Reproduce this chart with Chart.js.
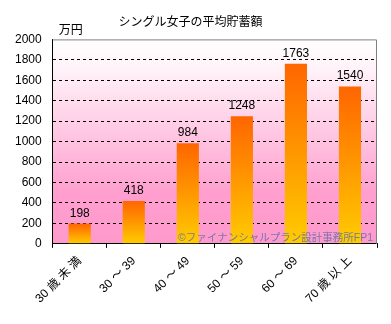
<!DOCTYPE html>
<html>
<head>
<meta charset="utf-8">
<script src="https://cdn.jsdelivr.net/npm/chart.js@4.4.1/dist/chart.umd.min.js"></script>
<style>
  html, body { margin: 0; padding: 0; background: #fff; }
  #wrap { width: 391px; height: 324px; }
</style>
</head>
<body>
<div id="wrap"><canvas id="savingsChart"></canvas></div>
<script>
const FONT = '"Liberation Sans", "Noto Sans CJK JP", sans-serif';

// data
const ageGroups = ['30 歳 未 満', '30 ～ 39', '40 ～ 49', '50 ～ 59', '60 ～ 69', '70 歳 以 上'];
const savings = [198, 418, 984, 1248, 1763, 1540];
const yTicks = [0, 200, 400, 600, 800, 1000, 1200, 1400, 1600, 1800, 2000];

const chartTitle = 'シングル女子の平均貯蓄額';
const unitLabel = '万円';
const watermark = '©ファイナンシャルプラン設計事務所FP1';

// pink backdrop, outer border, unit, watermark, value labels
const decor = {
    id: 'decor',
    beforeDraw(chart) {
        const { ctx, chartArea: a } = chart;
        const g = ctx.createLinearGradient(0, a.top, 0, a.bottom);
        g.addColorStop(0, '#ffffff');
        g.addColorStop(0.15, '#fff2f8');
        g.addColorStop(0.75, '#ff9fcf');
        g.addColorStop(1, '#ff99cc');
        ctx.save();
        ctx.fillStyle = g;
        ctx.fillRect(a.left, a.top, a.right - a.left, a.bottom - a.top);
        ctx.restore();
    },
    afterDatasetsDraw(chart) {
        const { ctx, chartArea: a } = chart;
        ctx.save();
        // top + right border in grey
        ctx.strokeStyle = '#808080';
        ctx.lineWidth = 1;
        ctx.beginPath();
        ctx.moveTo(a.left, a.top + 0.5);
        ctx.lineTo(a.right - 0.5, a.top + 0.5);
        ctx.lineTo(a.right - 0.5, a.bottom);
        ctx.stroke();

        ctx.font = '12px ' + FONT;
        ctx.fillStyle = '#000';
        ctx.textAlign = 'left';
        ctx.textBaseline = 'alphabetic';
        ctx.fillText(unitLabel, a.left + 6, a.top - 5);

        // value above each bar
        ctx.textAlign = 'center';
        const meta = chart.getDatasetMeta(0);
        meta.data.forEach((bar, i) => {
            ctx.fillText(String(savings[i]), bar.x, bar.y - 7);
        });

        ctx.font = '10.5px ' + FONT;
        ctx.fillStyle = 'rgba(96, 112, 170, 0.85)';
        ctx.textAlign = 'right';
        ctx.fillText(watermark, a.right - 4, a.bottom - 3);
        ctx.restore();
    }
};

function barFill(c) {
    const chart = c.chart;
    const y = chart.scales && chart.scales.y;
    if (!y || c.raw == null) return '#ff9900';
    const top = y.getPixelForValue(c.raw);
    const bot = y.getPixelForValue(0);
    if (!isFinite(top) || !isFinite(bot) || top === bot) return '#ff9900';
    const g = chart.ctx.createLinearGradient(0, top, 0, bot);
    g.addColorStop(0, '#ff6600');
    g.addColorStop(0.35, '#ff8800');
    g.addColorStop(1, '#ffcc00');
    return g;
}

new Chart(document.getElementById('savingsChart'), {
    type: 'bar',
    data: {
        labels: ageGroups,
        datasets: [{
            data: savings,
            backgroundColor: barFill,
            borderWidth: 0,
            categoryPercentage: 1,
            barPercentage: 0.41
        }]
    },
    options: {
        responsive: true,
        maintainAspectRatio: false,
        animation: false,
        layout: { padding: { left: 4, right: 14, top: 2, bottom: 12 } },
        plugins: {
            legend: { display: false },
            tooltip: { enabled: false },
            title: {
                display: true,
                text: chartTitle,
                color: '#000',
                font: { family: FONT, size: 12, weight: 'normal' },
                padding: { top: 13, bottom: 10 }
            }
        },
        scales: {
            x: {
                border: { color: '#000', width: 1 },
                grid: { offset: true, drawOnChartArea: false, drawTicks: true, tickLength: 4, color: '#000' },
                ticks: {
                    color: '#000',
                    font: { family: FONT, size: 12 },
                    minRotation: 45, maxRotation: 45,
                    autoSkip: false,
                    padding: 6
                }
            },
            y: {
                min: yTicks[0],
                max: yTicks[yTicks.length - 1],
                afterBuildTicks: (axis) => { axis.ticks = yTicks.map(v => ({ value: v })); },
                border: { color: '#000', width: 1, dash: [3, 3] },
                grid: {
                    drawTicks: false,
                    color: (c) => (c.tick && (c.tick.value === 0 || c.tick.value === 2000)) ? 'rgba(0,0,0,0)' : '#000'
                },
                ticks: {
                    color: '#000',
                    font: { family: FONT, size: 12 },
                    padding: 11,
                    callback: (v) => String(v)
                }
            }
        }
    },
    plugins: [decor]
});
</script>
</body>
</html>
